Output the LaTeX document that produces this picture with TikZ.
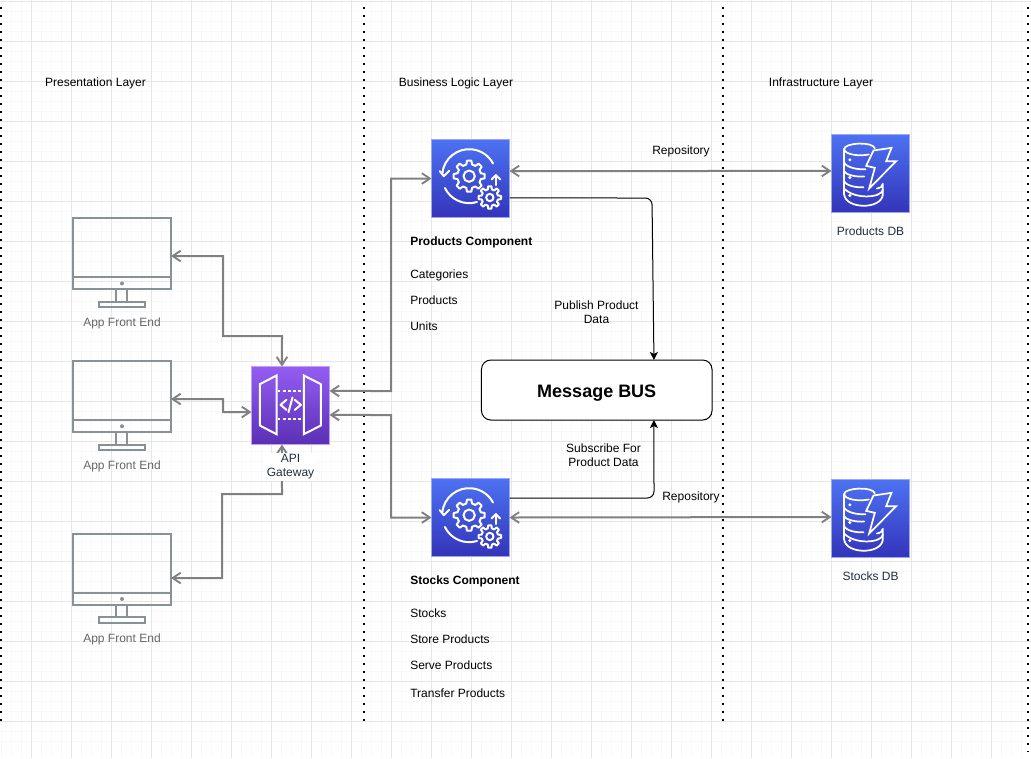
\documentclass[tikz,border=0pt]{standalone}
\usepackage{fontspec}
\setmainfont{Liberation Sans}
\usetikzlibrary{arrows.meta}
\definecolor{conngray}{HTML}{808080}
\definecolor{monigray}{HTML}{879196}
\definecolor{awsdark}{HTML}{232F3E}
\definecolor{monitext}{HTML}{666666}
\definecolor{blueT}{HTML}{4D72F3}
\definecolor{blueB}{HTML}{3334B9}
\definecolor{blueE}{HTML}{9AA8F2}
\definecolor{purpT}{HTML}{945DF2}
\definecolor{purpB}{HTML}{5A30B5}
\definecolor{purpE}{HTML}{BFA0F5}
\definecolor{gridA}{HTML}{F8F8F8}
\definecolor{gridB}{HTML}{E6E6E6}
\newcommand{\gearat}[5]{%
  \begin{scope}[shift={(#1,#2)}]
    \draw[iconline] (-14:#4) \foreach \a in {0,45,...,315} {
      -- (\a-14:#4) -- (\a-8:#3) -- (\a+8:#3) -- (\a+14:#4) } -- cycle;
    \draw[iconline] (0,0) circle[radius=#5];
  \end{scope}}
\newcommand{\compicon}[1]{%
  \begin{scope}[shift={(#1.north west)},x=0.25pt,y=-0.25pt]
    \gearat{113}{110}{47}{36}{17}
    \gearat{175}{174}{34}{25}{11}
    \draw[iconline] (186:81) ++(113,110) arc[start angle=186,end angle=332,radius=81];
    \draw[iconline] (154:81) ++(113,110) arc[start angle=154,end angle=73,radius=81];
    \draw[iconline] (25,95) -- (37,110) -- (53,94);
    \draw[iconline] (193,137) -- (193,107);
    \draw[iconline] (180,120) -- (193,107) -- (206,120);
  \end{scope}}
\newcommand{\dbicon}[1]{%
  \begin{scope}[shift={(#1.north west)},x=0.25pt,y=-0.25pt]
    \draw[dbline] (38,44) .. controls (38,24) and (126,20) .. (130,42);
    \draw[dbline] (38,44) .. controls (40,60) and (80,66) .. (112,60);
    \draw[dbline] (38,44) -- (38,180);
    \draw[dbline] (38,84) .. controls (44,98) and (76,106) .. (102,104);
    \draw[dbline] (38,110) .. controls (44,122) and (76,128) .. (98,126);
    \draw[dbline] (38,140) .. controls (44,154) and (76,160) .. (96,158);
    \draw[dbline] (38,180) .. controls (42,224) and (150,226) .. (154,180) -- (154,148) .. controls (154,156) and (146,160) .. (136,162);
    \draw[dbline] (154,166) .. controls (150,190) and (70,196) .. (38,162);
    \draw[dbline,line join=miter] (126,48) -- (180,40) -- (164,80) -- (194,80) -- (113,162) -- (130,100) -- (104,94) -- cycle;
    \fill[white] (55,76) circle[radius=5];
    \fill[white] (55,129) circle[radius=5];
    \fill[white] (55,183) circle[radius=5];
  \end{scope}}
\newcommand{\gwicon}[1]{%
  \begin{scope}[shift={(#1.north west)},x=0.25pt,y=-0.25pt]
    \draw[iconline,line join=miter] (25,53) -- (75,27) -- (75,203) -- (25,177) -- cycle;
    \draw[iconline,line join=miter] (157,27) -- (208,53) -- (208,177) -- (157,203) -- cycle;
    \draw[iconline,line cap=butt,dash pattern=on 2.2pt off 1.6pt] (78,72) -- (155,72);
    \draw[iconline,line cap=butt,dash pattern=on 2.2pt off 1.6pt] (78,158) -- (155,158);
    \draw[iconline] (105,100) -- (87,115) -- (105,130);
    \draw[iconline] (130,100) -- (148,115) -- (130,130);
    \draw[iconline] (123,93) -- (111,137);
  \end{scope}}
\newcommand{\monbits}[1]{%
  \begin{scope}[shift={(#1.north west)},x=0.75pt,y=-0.75pt]
    \draw[monline] (0,59) -- (98,59);
    \fill[monigray] (49,65) circle[radius=2];
    \draw[monline] (43,70.5) -- (43,83.5) (54,70.5) -- (54,83.5);
    \draw[monline] (26,83.5) rectangle (72,89);
  \end{scope}}
\tikzset{
  iconline/.style={draw=white,line width=1.5pt,line cap=round,line join=round},
  dbline/.style={draw=white,line width=1.3pt,line cap=round,line join=round},
  monline/.style={draw=monigray,line width=1.5pt},
  monitorbox/.style={draw=monigray,line width=1.5pt,rectangle,minimum width=73.5pt,minimum height=52.9pt,inner sep=0pt,outer sep=0pt},
  awsbox/.style={rectangle,minimum size=58.5pt,inner sep=0pt,outer sep=0pt,line width=0.6pt},
  bluebox/.style={awsbox,top color=blueT,bottom color=blueB,draw=blueE},
  purplebox/.style={awsbox,top color=purpT,bottom color=purpB,draw=purpE},
  txt/.style={font=\fontsize{9}{10.5}\selectfont,text=black,inner sep=0pt,align=center},
  stxt/.style={txt,text height=7.25pt,text depth=1.25pt},
  ltxt/.style={stxt,anchor=west,align=left},
  montxt/.style={stxt,text=monitext},
  dbtxt/.style={stxt,text=awsdark},
  dualgray/.style={draw=conngray,line width=1.5pt,{Straight Barb[length=6pt,width=8pt,line width=1.4pt]}-{Straight Barb[length=6pt,width=8pt,line width=1.4pt]}},
  flow/.style={draw=black,line width=0.75pt,rounded corners=5pt,-{Stealth[length=6pt,width=6pt,inset=1.5pt]}},
  layerline/.style={draw=black,line width=1.5pt,dash pattern=on 1.5pt off 4.5pt},
  gridminor/.style={draw=gridA,line width=0.75pt},
  gridmajor/.style={draw=gridB,line width=0.75pt},
}
\begin{document}
\begin{tikzpicture}[x=0.75pt,y=-0.75pt]
\useasboundingbox (0,0) rectangle (1031,758);
\fill[white] (0,0) rectangle (1031,758);
% grid
\foreach \i in {1.5,11.5,...,1031} \draw[gridminor] (\i,0) -- (\i,758);
\foreach \i in {1.5,11.5,...,751} \draw[gridminor] (0,\i) -- (1031,\i);
\foreach \i in {31.5,71.5,...,1031} \draw[gridmajor] (\i,0) -- (\i,758);
\foreach \i in {1.5,41.5,...,751} \draw[gridmajor] (0,\i) -- (1031,\i);
% layer separators
\coordinate (sepAa) at (1,7); \coordinate (sepAb) at (1,722);
\coordinate (sepBa) at (364,7); \coordinate (sepBb) at (364,722);
\coordinate (sepCa) at (723,7); \coordinate (sepCb) at (723,722);
\coordinate (sepDa) at (1028,7); \coordinate (sepDb) at (1028,752);
\draw[layerline] (sepAa) -- (sepAb);
\draw[layerline] (sepBa) -- (sepBb);
\draw[layerline] (sepCa) -- (sepCb);
\draw[layerline] (sepDa) -- (sepDb);
% nodes
\node[monitorbox] (m1) at (122,253.75) {};
\node[monitorbox] (m2) at (122,396.5) {};
\node[monitorbox] (m3) at (122,569.25) {};
\monbits{m1}\monbits{m2}\monbits{m3}
\node[purplebox] (gw) at (290.5,405.5) {};
\gwicon{gw}
\node[bluebox] (pc) at (470.5,178.5) {};
\compicon{pc}
\node[bluebox] (sc) at (470.5,517.5) {};
\compicon{sc}
\node[bluebox] (db1) at (870.5,173.5) {};
\dbicon{db1}
\node[bluebox] (db2) at (870.5,518.5) {};
\dbicon{db2}
\node[draw=black,line width=0.75pt,fill=white,rounded corners=7pt,minimum width=172.9pt,minimum height=45pt,inner sep=0pt,outer sep=0pt,text height=10.5pt,text depth=0pt,font=\fontsize{13.5}{16}\selectfont\bfseries] (bus) at (596.75,390) {Message BUS};
% connectors
\draw[dualgray] ([yshift=-1.7pt]m1.east) -- (223,256) -- (223,336) -- (282,336) -- ([xshift=-6.4pt]gw.north);
\draw[dualgray] ([yshift=-1.9pt]m2.east) -- (223,399) -- (223,412) -- ([yshift=-4.9pt]gw.west);
\draw[dualgray] ([yshift=-6.6pt]m3.east) -- (222,578) -- (222,494) -- (282,494) -- ([xshift=-6.4pt]gw.south);
\draw[dualgray] ([yshift=10.9pt]gw.east) -- (391,391) -- (391,178.5) -- (pc.west);
\draw[dualgray] ([yshift=-7.1pt]gw.east) -- (391,415) -- (391,517.5) -- (sc.west);
\draw[dualgray] ([yshift=5.6pt]pc.east) -- ([yshift=1.9pt]db1.west);
\draw[dualgray] (sc.east) -- ([yshift=1.1pt]db2.west);
\draw[flow] ([yshift=-14.6pt]pc.east) -- (652,198) -- ([xshift=42.9pt]bus.north);
\draw[flow] ([yshift=14.6pt]sc.east) -- (654,498) -- ([xshift=42.9pt]bus.south);
% labels
\node[stxt] (t1) at (95.5,82) {Presentation Layer};
\node[stxt] (t2) at (456,82) {Business Logic Layer};
\node[stxt] (t3) at (821,82) {Infrastructure Layer};
\node[montxt] (l1) at (122,322) {App Front End};
\node[montxt] (l2) at (122,465) {App Front End};
\node[montxt] (l3) at (122,638) {App Front End};
\node[txt,text=awsdark,fill=white,minimum width=37pt,minimum height=21pt] (gwl) at (290.5,466.5) {API\\Gateway};
\node[stxt] (r1) at (681,150) {Repository};
\node[stxt] (r2) at (691,496) {Repository};
\node[dbtxt] (d1) at (870.5,231) {Products DB};
\node[dbtxt] (d2) at (870.5,576) {Stocks DB};
\node[txt] (pp) at (596.5,312) {Publish Product\\Data};
\node[txt] (sp) at (603.5,455) {Subscribe For\\Product Data};
\node[ltxt,font=\fontsize{9}{10.5}\selectfont\bfseries] (c1) at (410,241) {Products Component};
\node[ltxt] (c1a) at (410,274) {Categories};
\node[ltxt] (c1b) at (410,300) {Products};
\node[ltxt] (c1c) at (410,326) {Units};
\node[ltxt,font=\fontsize{9}{10.5}\selectfont\bfseries] (c2) at (410,580) {Stocks Component};
\node[ltxt] (c2a) at (410,613) {Stocks};
\node[ltxt] (c2b) at (410,639) {Store Products};
\node[ltxt] (c2c) at (410,665) {Serve Products};
\node[ltxt] (c2d) at (410,693) {Transfer Products};
\end{tikzpicture}
\end{document}
